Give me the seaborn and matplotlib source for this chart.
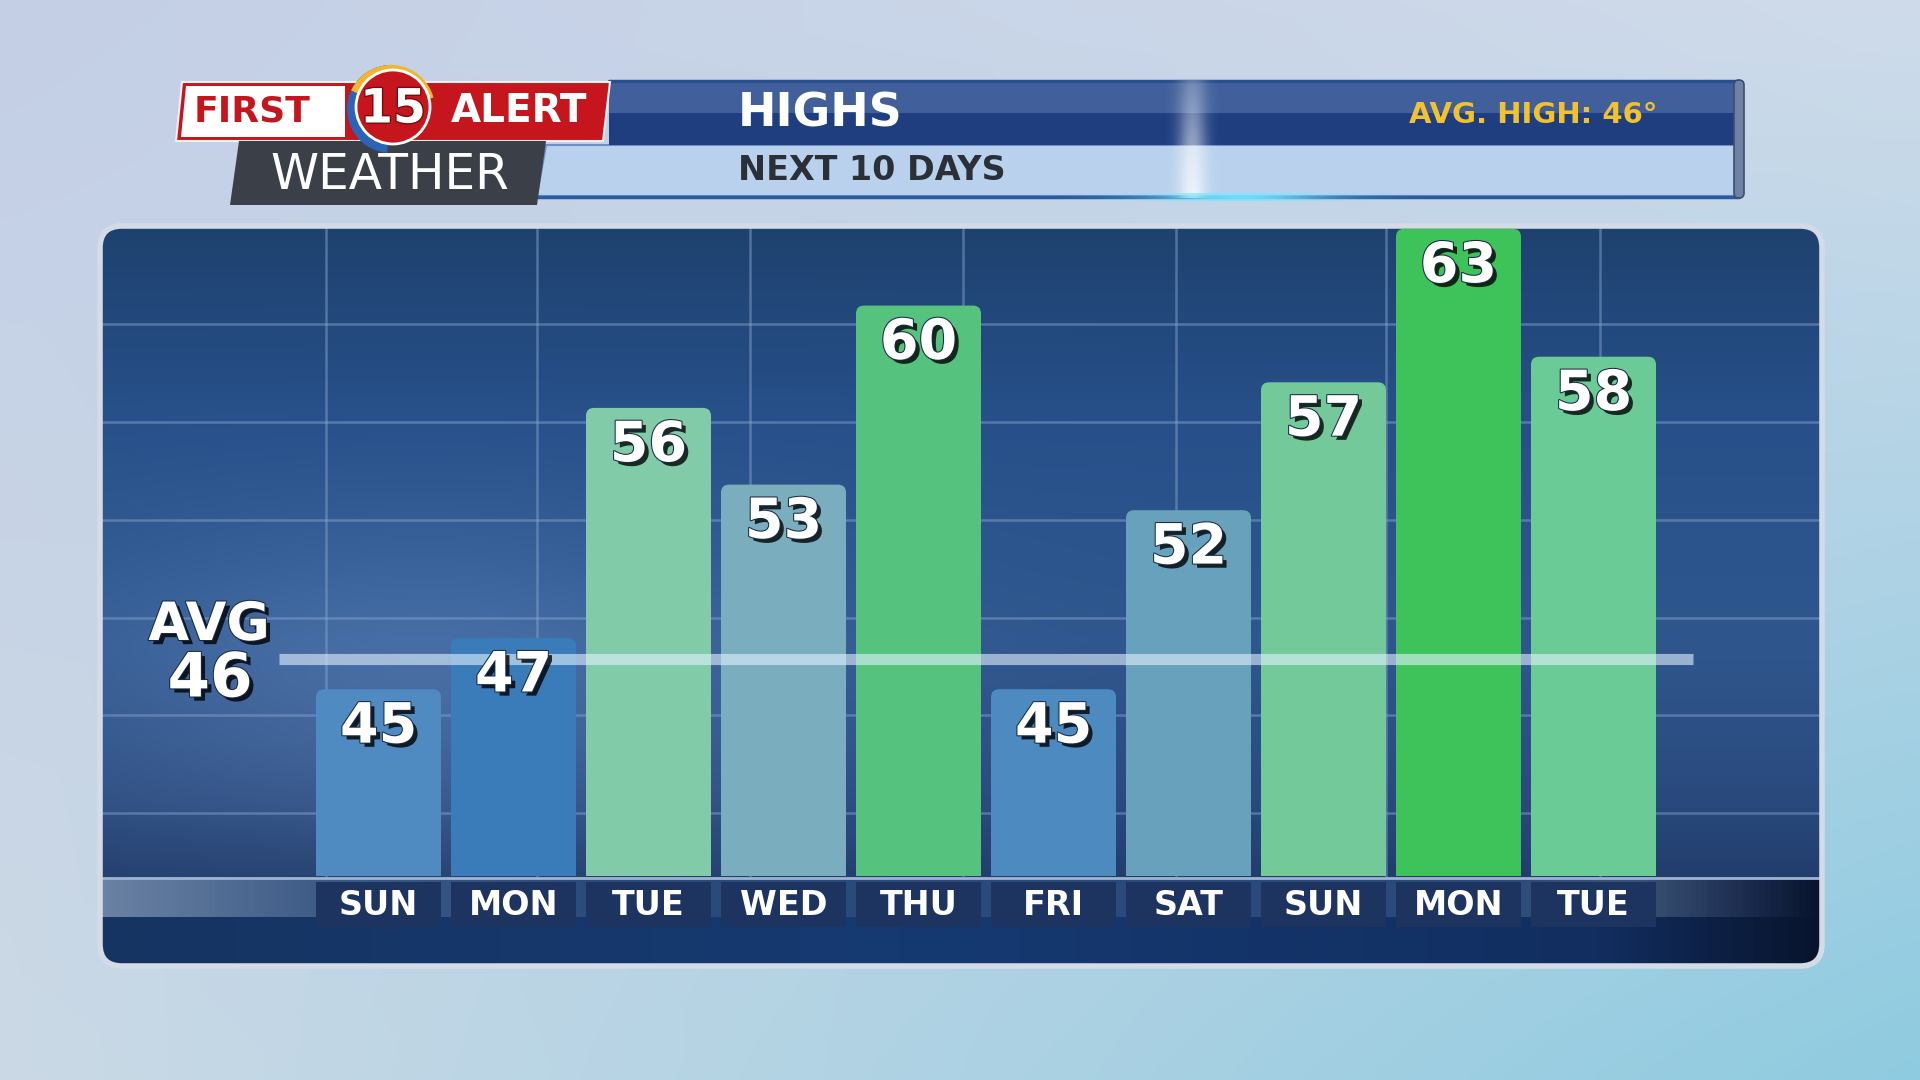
import numpy as np
import matplotlib.pyplot as plt
import matplotlib.patheffects as pe
from matplotlib.patches import FancyBboxPatch, Rectangle, Polygon, Circle, Wedge
from matplotlib.colors import to_rgb
import seaborn as sns

# data
days = ['SUN', 'MON', 'TUE', 'WED', 'THU', 'FRI', 'SAT', 'SUN', 'MON', 'TUE']
highs = [45, 47, 56, 53, 60, 45, 52, 57, 63, 58]
bar_colors = ['#4f8bc0', '#3a7bb9', '#82cba9', '#7aaebf', '#55c27e',
              '#4c8ac0', '#68a1bb', '#73c99a', '#3dc35a', '#6acb96']
avg_high = 46

W, H = 1920, 1080
sns.set_theme(style='white')
plt.rcParams['font.family'] = ['DejaVu Sans']

fig = plt.figure(figsize=(19.2, 10.8), dpi=100)

# pixel canvas for the background graphics
cv = fig.add_axes([0, 0, 1, 1])
cv.set_xlim(0, W)
cv.set_ylim(H, 0)
cv.axis('off')


def grad4(tl, tr, bl, br, n=96):
    tl, tr, bl, br = [np.array(to_rgb(c)) for c in (tl, tr, bl, br)]
    u = np.linspace(0, 1, n)[None, :, None]
    v = np.linspace(0, 1, n)[:, None, None]
    top = tl * (1 - u) + tr * u
    bot = bl * (1 - u) + br * u
    return top * (1 - v) + bot * v


def ramp(stops, n, axis):
    pos = [s[0] for s in stops]
    cols = np.array([to_rgb(s[1]) for s in stops])
    t = np.linspace(pos[0], pos[-1], n)
    arr = np.stack([np.interp(t, pos, cols[:, k]) for k in range(3)], axis=-1)
    return arr[:, None, :] if axis == 0 else arr[None, :, :]


# outer background
cv.imshow(grad4('#c4cfe6', '#cfdbea', '#cbd9e6', '#8fcbe0'),
          extent=(0, W, H, 0), aspect='auto', zorder=0, interpolation='bicubic')

# chart panel
px0, py0, pw, ph = 100, 226, 1722, 740
panel = FancyBboxPatch((px0, py0), pw, ph, boxstyle='round,pad=0,rounding_size=22',
                       fc='none', ec='#d4dbe6', lw=4, zorder=6)
cv.add_patch(panel)
clip = FancyBboxPatch((px0, py0), pw, ph, boxstyle='round,pad=0,rounding_size=22',
                      fc='none', ec='none')
cv.add_patch(clip)

rows = 200
pimg = ramp([(226, '#1e426f'), (420, '#27508a'), (640, '#2f578e'),
             (800, '#2a4a7e'), (880, '#213d6c')], rows, 0)
pimg = np.repeat(pimg, 200, axis=1)
yy, xx = np.mgrid[0:rows, 0:200]
gx = px0 + xx / 199 * pw
gy = 226 + yy / (rows - 1) * (880 - 226)
blob = np.exp(-(((gx - 420) / 380) ** 2 + ((gy - 690) / 170) ** 2))
pimg = np.clip(pimg + 0.10 * blob[..., None], 0, 1)
im = cv.imshow(pimg, extent=(px0, px0 + pw, 880, 226), aspect='auto', zorder=1,
               interpolation='bicubic')
im.set_clip_path(clip)

# background grid
for gxl in [326, 537, 750, 963, 1176, 1386, 1600]:
    cv.plot([gxl, gxl], [228, 876], color='#86a2cc', alpha=0.5, lw=1.8, zorder=2)
for gyl in [324, 422, 520, 618, 715, 813]:
    cv.plot([px0 + 2, px0 + pw - 2], [gyl, gyl], color='#86a2cc', alpha=0.5, lw=1.8, zorder=2)

# strip below the bars
band = ramp([(100, '#6a82a3'), (330, '#3c5a86'), (620, '#2a4a7c'), (1480, '#2a4a7c'),
             (1640, '#3b5377'), (1760, '#18284a'), (1822, '#08142c')], 300, 1)
bim = cv.imshow(band, extent=(px0, px0 + pw, 917, 878), aspect='auto', zorder=1)
bim.set_clip_path(clip)
navy = ramp([(100, '#163462'), (900, '#153a72'), (1600, '#122e60'),
             (1822, '#08142c')], 300, 1)
nim = cv.imshow(navy, extent=(px0, px0 + pw, py0 + ph, 917), aspect='auto', zorder=1)
nim.set_clip_path(clip)
cv.plot([px0 + 2, px0 + pw - 2], [878, 878], color='#9fb4d0', lw=2, zorder=2)

# header bar
cv.add_patch(Polygon([(546, 145), (1739, 145), (1739, 196), (537, 196)],
                     fc='#b9d1ec', ec='#6f8fc2', lw=1.5, zorder=2))
cv.add_patch(Rectangle((609, 81), 1130, 32, fc='#41609b', ec='none', zorder=2))
cv.add_patch(Rectangle((609, 113), 1130, 32, fc='#1f3e7f', ec='none', zorder=2))
cv.plot([609, 1739], [81, 81], color='#2a4f8f', lw=2.5, zorder=3)
cv.plot([537, 1739], [197, 197], color='#2a5aa0', lw=2.5, zorder=3)
cv.add_patch(FancyBboxPatch((1734, 80), 10, 118, boxstyle='round,pad=0,rounding_size=5',
                            fc='#6f82a4', ec='#3b4e72', lw=1.2, zorder=3))

# glare on header
gy_, gx_ = np.mgrid[0:120, 0:200]
ax_ = np.exp(-((gx_ - 100) / 14.0) ** 2) * (0.35 + 0.65 * (gy_ / 119.0))
glare = np.zeros((120, 200, 4))
glare[..., :3] = 1.0
glare[..., 3] = 0.75 * ax_
cv.imshow(glare, extent=(1092, 1292, 198, 80), aspect='auto', zorder=3)
line_glow = np.zeros((10, 400, 4))
line_glow[..., :3] = to_rgb('#7fe8ff')
line_glow[..., 3] = np.exp(-((np.arange(400) - 200) / 90.0) ** 2)[None, :] * 0.9
cv.imshow(line_glow, extent=(1040, 1440, 201, 193), aspect='auto', zorder=3)

# logo
cv.add_patch(Polygon([(182, 82), (610, 82), (603, 141), (176, 141)],
                     fc='#c4161c', ec='#f0f0f0', lw=1.5, zorder=4))
cv.add_patch(Polygon([(186, 86), (345, 86), (345, 137), (181, 137)],
                     fc='white', ec='none', zorder=4))
cv.text(252, 111, 'FIRST', ha='center', va='center', fontsize=26, color='#c4161c',
        weight='bold', zorder=5)
cv.text(519, 111, 'ALERT', ha='center', va='center', fontsize=28, color='white',
        weight='bold', zorder=5)
cv.add_patch(Wedge((391, 109), 44, 95, 265, width=9, fc='#2b63b8', ec='none', zorder=5))
cv.add_patch(Wedge((391, 109), 44, 205, 345, width=9, fc='#f2b62a', ec='none', zorder=5))
cv.add_patch(Circle((393, 107), 37, fc='#c4161c', ec='white', lw=2, zorder=5))
cv.text(393, 110, '15', ha='center', va='center', fontsize=34, color='white',
        weight='bold', zorder=6,
        path_effects=[pe.withStroke(linewidth=2, foreground='#7a0c10')])
cv.add_patch(Polygon([(239, 141), (546, 141), (537, 205), (230, 205)],
                     fc='#3b4048', ec='none', zorder=4))
cv.text(390, 175, 'WEATHER', ha='center', va='center', fontsize=35, color='white',
        zorder=5)

# header texts
cv.text(738, 114, 'HIGHS', ha='left', va='center', fontsize=33, color='white',
        weight='bold', zorder=5)
cv.text(738, 171, 'NEXT 10 DAYS', ha='left', va='center', fontsize=24, color='#2b2f38',
        weight='bold', zorder=5)
cv.text(1657, 115, 'AVG. HIGH: 46\u00b0', ha='right', va='center', fontsize=21,
        color='#f2c12e', weight='bold', zorder=5)

# bar axes: bottom at y=876 px, 25.58 px per degree, bar pitch 135 px
base = 37.7
ax = fig.add_axes([98 / W, (H - 876) / H, 1726 / W, (876 - 224) / H])
ax.patch.set_alpha(0)
xs = list(range(len(highs)))
sns.barplot(x=xs, y=highs, hue=xs, palette=bar_colors, width=0.926, dodge=False,
            saturation=1, legend=False, ax=ax)
ax.set_xlim((98 - 378.5) / 135, (1824 - 378.5) / 135)
ax.set_ylim(base, base + (876 - 224) / 25.58)
ax.axis('off')

# rounded bar tops
for p in list(ax.patches):
    rb = FancyBboxPatch((p.get_x(), p.get_y()), p.get_width(), p.get_height(),
                        boxstyle='round,pad=0,rounding_size=0.06',
                        mutation_aspect=135 / 25.58, fc=p.get_facecolor(),
                        ec='none', zorder=2)
    ax.add_patch(rb)
    p.set_visible(False)

# average line
ax.axhline(avg_high + 0.2, xmin=(279 - 98) / 1726, xmax=(1693 - 98) / 1726,
           color='#e2f2ff', alpha=0.6, lw=8, solid_capstyle='butt', zorder=3)

shadow = [pe.SimplePatchShadow(offset=(3, -3), shadow_rgbFace='#000000', alpha=0.8),
          pe.Stroke(linewidth=1.5, foreground='#1a2a44'), pe.Normal()]
for i, v in enumerate(highs):
    ax.text(i, v - 1.5, str(v), ha='center', va='center', fontsize=40, color='white',
            weight='bold', zorder=5, path_effects=shadow)

cv.text(209, 625, 'AVG', ha='center', va='center', fontsize=38, color='white',
        weight='bold', zorder=7, path_effects=shadow)
cv.text(210, 680, str(avg_high), ha='center', va='center', fontsize=44, color='white',
        weight='bold', zorder=7, path_effects=shadow)

# day label boxes
ax2 = fig.add_axes([98 / W, (H - 927) / H, 1726 / W, 45 / H])
ax2.patch.set_alpha(0)
ax2.bar(xs, [1] * len(xs), width=0.926, color='#1d3360', edgecolor='none', linewidth=0)
ax2.set_xlim(ax.get_xlim())
ax2.set_ylim(0, 1)
ax2.axis('off')
for i, d in enumerate(days):
    ax2.text(i, 0.47, d, ha='center', va='center', fontsize=24, color='white',
             weight='bold')

fig.savefig('out.png', dpi=100)
